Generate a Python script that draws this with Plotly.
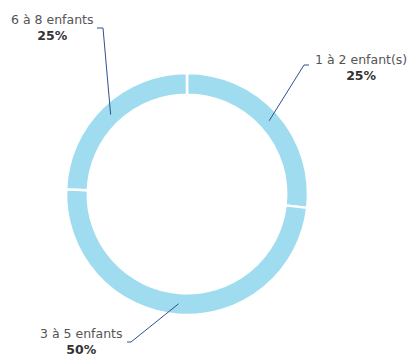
import math
import plotly.graph_objects as go

# ---- data ----
categories = ["1 à 2 enfant(s)", "3 à 5 enfants", "6 à 8 enfants"]
values = [11, 20, 10]
pct_labels = ["25%", "50%", "25%"]

# ---- layout config ----
W, H = 408, 356
cx, cy, R = 187, 194, 121
hole = 0.82
ring_color = "#a0dcf0"
line_color = "#2f4f8f"
font_family = "DejaVu Sans"

# label placement: elbow point, end of horizontal tick, text block centre (x, y)
label_cfg = [
    dict(elbow=(304, 65), end=(309, 65), tx=361, ty=67),
    dict(elbow=(131, 342), end=(127, 342), tx=81, ty=341),
    dict(elbow=(103, 28), end=(97, 28), tx=52, ty=27.5),
]

fig = go.Figure()
fig.add_trace(go.Pie(
    labels=categories, values=values, hole=hole, sort=False,
    direction="clockwise", rotation=0, textinfo="none", hoverinfo="label+percent",
    marker=dict(colors=[ring_color] * len(values), line=dict(color="white", width=2.5)),
    domain=dict(x=[(cx - R) / W, (cx + R) / W], y=[1 - (cy + R) / H, 1 - (cy - R) / H]),
    showlegend=False,
))

total = sum(values)
cum = 0
r_mid = R * (1 + hole) / 2
annotations = []
shapes = []
for i, v in enumerate(values):
    a_start = 90 - 360 * cum / total
    mid = math.radians(a_start - 180 * v / total)
    cum += v
    px = cx + r_mid * math.cos(mid)
    py = cy - r_mid * math.sin(mid)
    cfg = label_cfg[i]
    path = "M {:.2f},{:.2f} L {},{} L {},{}".format(px, py, cfg["elbow"][0], cfg["elbow"][1],
                                                   cfg["end"][0], cfg["end"][1])
    shapes.append(dict(type="path", path=path, xref="x", yref="y", layer="above",
                       line=dict(color=line_color, width=1)))
    text = "{}<br><b><span style='color:#333333'>{}</span></b>".format(categories[i], pct_labels[i])
    annotations.append(dict(x=cfg["tx"], y=cfg["ty"], xref="x", yref="y", text=text,
                            showarrow=False, xanchor="center", yanchor="middle", align="center",
                            font=dict(family=font_family, size=12.5, color="#555555")))

fig.add_trace(go.Scatter(x=[0, W], y=[0, H], mode="markers", marker=dict(opacity=0),
                         hoverinfo="skip", showlegend=False))

fig.update_layout(
    width=W, height=H, margin=dict(l=0, r=0, t=0, b=0),
    paper_bgcolor="white", plot_bgcolor="rgba(0,0,0,0)",
    xaxis=dict(range=[0, W], visible=False, fixedrange=True, domain=[0, 1]),
    yaxis=dict(range=[H, 0], visible=False, fixedrange=True, domain=[0, 1]),
    annotations=annotations, shapes=shapes,
)

fig.write_html("out.html", config=dict(displayModeBar=False),
               post_script="document.body.style.margin='0';document.body.style.overflow='hidden';")
